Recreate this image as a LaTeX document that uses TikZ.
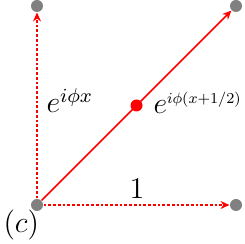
\documentclass[tikz,border=0pt]{standalone}
\usepackage{graphicx}
\usetikzlibrary{arrows.meta}
\begin{document}
\begin{tikzpicture}[x=0.4pt,y=0.4pt,
  site/.style={circle,fill=gray,inner sep=0pt,minimum size=4.8pt},
  midsite/.style={circle,fill=red,inner sep=0pt,minimum size=4.8pt},
  hop/.style={red,line width=0.6pt,-{Stealth[length=3.6pt,width=3.2pt]}},
  dhop/.style={hop,dash pattern=on 1.1pt off 0.8pt},
  lbl/.style={font=\large,inner sep=0pt}]
\useasboundingbox (0,0) rectangle (245,244);
\node[site] (a) at (37,39) {};
\node[site] (b) at (236,39) {};
\node[site] (c) at (37,238) {};
\node[site] (d) at (236,238) {};
\coordinate (m) at (136.5,138.5);
\draw[dhop] (a) -- (c);
\draw[dhop] (a) -- (b);
\draw[hop] (a) -- (d);
\node[midsite] (mid) at (m) {};
\node[lbl,anchor=base west] (lx) at (46,131) {$e^{i\phi x}$};
\node[lbl,anchor=base west] (lm) at (153,130) {$e^{\scalebox{0.76}{$\scriptstyle i\phi(x+1/2)$}}$};
\node[lbl,anchor=base] (l1) at (137,45) {$1$};
\node[lbl,anchor=base west] (lc) at (3,11) {$(c)$};
\end{tikzpicture}
\end{document}
